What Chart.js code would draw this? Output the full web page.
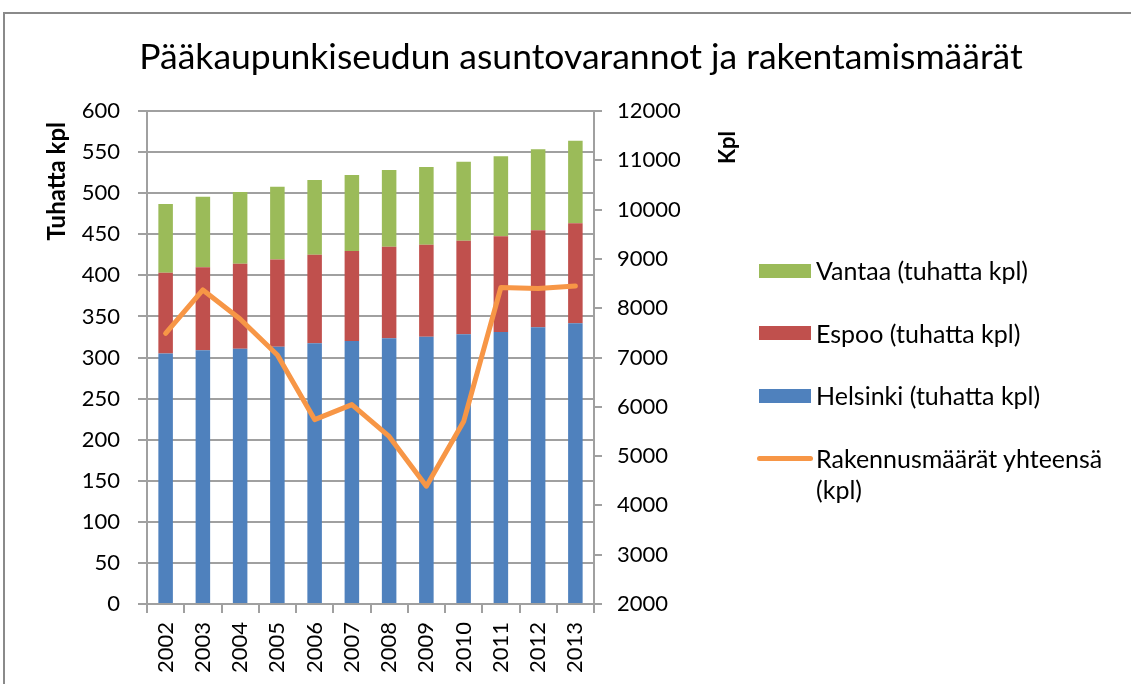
<!DOCTYPE html>
<html>
<head>
<meta charset="utf-8">
<title>Pääkaupunkiseudun asuntovarannot</title>
<script src="https://cdn.jsdelivr.net/npm/chart.js@4.4.1/dist/chart.umd.min.js"></script>
<style>
  body { margin: 0; overflow: hidden; background: #fff; font-family: Lato, sans-serif; }
  #frame { position: absolute; left: 3px; top: 12px; width: 1300px; height: 900px; border: 2px solid #8a8a8a; }
  #c { position: absolute; left: 0; top: 0; }
  #legend { position: absolute; left: 757px; top: 255px; margin: 0; padding: 0; list-style: none; }
  #legend li { display: flex; align-items: flex-start; font-size: 25px; line-height: 31px; color: #000; margin-bottom: 31.5px; white-space: nowrap; }
  #legend .sw { flex: none; margin: 8.5px 5px 0 2px; width: 52px; height: 14px; }
  #legend .ln { flex: none; margin: 13px 3px 0 0; width: 56px; height: 5px; border-radius: 3px; }
</style>
</head>
<body>
<div id="frame"></div>
<canvas id="c" width="1131" height="684"></canvas>
<ul id="legend"></ul>
<script>
const chartTitle = 'Pääkaupunkiseudun asuntovarannot ja rakentamismäärät';
const years = ['2002', '2003', '2004', '2005', '2006', '2007', '2008', '2009', '2010', '2011', '2012', '2013'];

// tuhatta kpl
const helsinki = [305, 308.7, 310.7, 313.2, 317.3, 320, 323.3, 325.3, 328.2, 331, 336.7, 341.6];
const espoo = [98.1, 101, 103.5, 106.2, 107.8, 109.6, 111.5, 112, 114, 116.5, 118.1, 121.7];
const vantaa = [83.6, 86, 87.2, 88.5, 90.9, 92.4, 93.4, 94.5, 95.9, 97.3, 98.5, 100.6];
// kpl
const rakennus = [7490, 8370, 7780, 7050, 5740, 6045, 5400, 4390, 5700, 8420, 8400, 8450];

const legendOrder = [2, 1, 0, 3];
const gridColor = '#a0a0a0';
const fontFamily = 'Lato';

Chart.defaults.font.family = fontFamily;
Chart.defaults.color = '#000';

// titles drawn by hand so they sit like in the excel chart
const extraTexts = {
  id: 'extraTexts',
  afterDraw(chart) {
    const ctx = chart.ctx;
    ctx.save();
    ctx.fillStyle = '#000';
    ctx.font = '35.5px ' + fontFamily;
    ctx.textAlign = 'center';
    ctx.textBaseline = 'alphabetic';
    ctx.fillText(chartTitle, 581, 69);

    ctx.textAlign = 'right';
    ctx.textBaseline = 'middle';

    ctx.save();
    ctx.font = 'bold 24px ' + fontFamily;
    ctx.translate(57.5, chart.chartArea.top + 11);
    ctx.rotate(-Math.PI / 2);
    ctx.fillText('Tuhatta kpl', 0, 0);
    ctx.restore();

    const y1 = chart.scales.y1;
    ctx.font = 'bold 22px ' + fontFamily;
    ctx.translate(y1.left + 134, chart.chartArea.top + 20);
    ctx.rotate(-Math.PI / 2);
    ctx.fillText('Kpl', 0, 0);
    ctx.restore();
  }
};

// html legend, same order as in the original
const htmlLegend = {
  id: 'htmlLegend',
  afterUpdate(chart) {
    const ul = document.getElementById('legend');
    ul.innerHTML = '';
    legendOrder.forEach(i => {
      const ds = chart.data.datasets[i];
      const li = document.createElement('li');
      const sw = document.createElement('span');
      if (ds.type === 'line') {
        sw.className = 'ln';
        sw.style.background = ds.borderColor;
      } else {
        sw.className = 'sw';
        sw.style.background = ds.backgroundColor;
      }
      const txt = document.createElement('span');
      txt.innerHTML = ds.label.split('\n').join('<br>');
      li.appendChild(sw);
      li.appendChild(txt);
      ul.appendChild(li);
    });
  }
};

new Chart(document.getElementById('c'), {
  data: {
    labels: years,
    datasets: [
      { type: 'bar', label: 'Helsinki (tuhatta kpl)', data: helsinki, backgroundColor: '#4f81bd', borderWidth: 0, yAxisID: 'y', order: 1 },
      { type: 'bar', label: 'Espoo (tuhatta kpl)', data: espoo, backgroundColor: '#c0504d', borderWidth: 0, yAxisID: 'y', order: 1 },
      { type: 'bar', label: 'Vantaa (tuhatta kpl)', data: vantaa, backgroundColor: '#9bbb59', borderWidth: 0, yAxisID: 'y', order: 1 },
      {
        type: 'line', label: 'Rakennusmäärät yhteensä\n(kpl)', data: rakennus, yAxisID: 'y1', order: 0,
        borderColor: '#f79646', backgroundColor: '#f79646', borderWidth: 5, tension: 0,
        borderCapStyle: 'round', borderJoinStyle: 'round',
        pointRadius: 0, pointHoverRadius: 0
      }
    ]
  },
  options: {
    responsive: false,
    animation: false,
    layout: { padding: { left: 0, right: 413, top: 111, bottom: 0 } },
    datasets: { bar: { barPercentage: 0.39, categoryPercentage: 1 } },
    scales: {
      x: {
        stacked: true,
        afterFit: s => { s.height = 80; },
        grid: { offset: true, drawOnChartArea: false, drawTicks: true, tickLength: 9, color: gridColor, lineWidth: 2 },
        border: { color: gridColor, width: 2 },
        ticks: { autoSkip: false, minRotation: 90, maxRotation: 90, padding: 9, font: { size: 22 } }
      },
      y: {
        stacked: true,
        position: 'left',
        min: 0, max: 600,
        afterFit: s => { s.width = 147; },
        grid: { color: gridColor, lineWidth: 2, tickLength: 9 },
        border: { color: gridColor, width: 2 },
        ticks: { stepSize: 50, autoSkip: false, padding: 18, font: { size: 22 } }
      },
      y1: {
        stacked: false,
        position: 'right',
        min: 2000, max: 12000,
        afterFit: s => { s.width = 124; },
        grid: { drawOnChartArea: false, color: gridColor, lineWidth: 2, tickLength: 8 },
        border: { color: gridColor, width: 2 },
        ticks: { stepSize: 1000, autoSkip: false, padding: 15, font: { size: 22 }, callback: v => String(v) }
      }
    },
    plugins: {
      tooltip: { enabled: false },
      legend: { display: false }
    }
  },
  plugins: [extraTexts, htmlLegend]
});
</script>
</body>
</html>
